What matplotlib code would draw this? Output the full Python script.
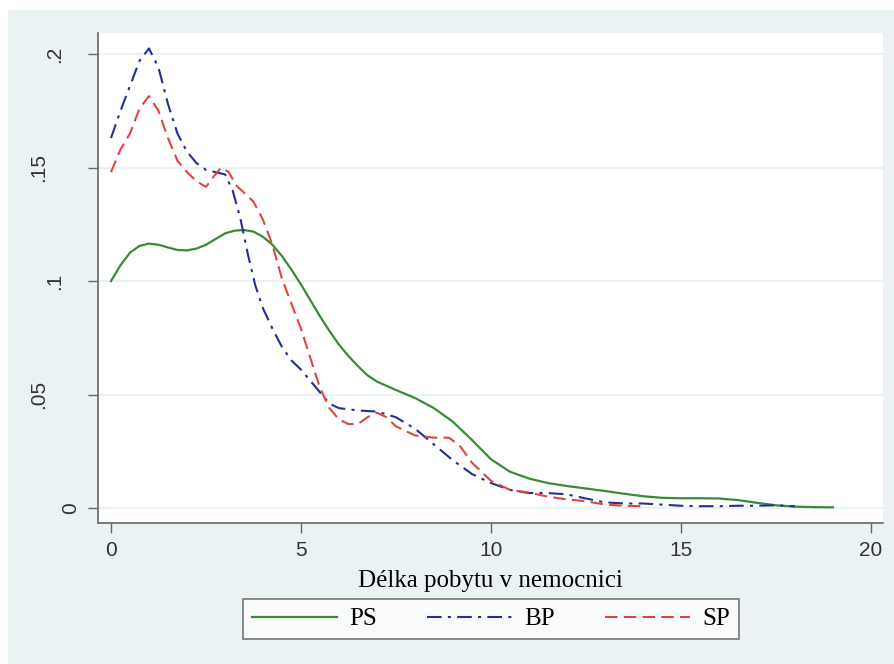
import matplotlib
matplotlib.use('Agg')
import matplotlib.pyplot as plt
from matplotlib.patches import Rectangle
from matplotlib.transforms import ScaledTranslation

# Kernel density estimates
ps_x = [0, 0.25, 0.5, 0.75, 1.0, 1.25, 1.5, 1.75, 2.0, 2.25, 2.5, 2.75, 3.0, 3.25, 3.5,
        3.75, 4.0, 4.25, 4.5, 4.75, 5.0, 5.25, 5.5, 5.75, 6.0, 6.25, 6.5, 6.75, 7.0, 7.5,
        8.0, 8.5, 9.0, 9.5, 10.0, 10.5, 11.0, 11.5, 12.0, 12.5, 13.0, 13.5, 14.0, 14.5,
        15.0, 15.5, 16.0, 16.5, 17.0, 17.5, 18.0, 18.5, 19.0]
ps_y = [0.100, 0.107, 0.1125, 0.1155, 0.1165, 0.1160, 0.1148, 0.1137, 0.1135, 0.1143,
        0.1160, 0.1185, 0.1210, 0.1222, 0.1225, 0.1218, 0.1195, 0.1160, 0.1110, 0.1050,
        0.0985, 0.0915, 0.0845, 0.0780, 0.0720, 0.0670, 0.0625, 0.0585, 0.0557, 0.0520,
        0.0485, 0.0440, 0.0380, 0.0300, 0.0215, 0.0160, 0.0130, 0.0110, 0.0097, 0.0086,
        0.0075, 0.0063, 0.0052, 0.0045, 0.0043, 0.0043, 0.0042, 0.0035, 0.0023, 0.0012,
        0.0006, 0.0004, 0.0003]

bp_x = [0, 0.25, 0.5, 0.75, 1.0, 1.25, 1.5, 1.75, 2.0, 2.25, 2.5, 2.75, 3.0, 3.2, 3.4,
        3.6, 3.8, 4.0, 4.25, 4.5, 4.75, 5.0, 5.25, 5.5, 5.75, 6.0, 6.5, 7.0, 7.5, 8.0,
        8.5, 9.0, 9.5, 10.0, 10.5, 11.0, 11.5, 12.0, 12.5, 13.0, 13.5, 14.0, 14.5, 15.0,
        15.5, 16.0, 16.5, 17.0, 17.5, 18.0]
bp_y = [0.163, 0.175, 0.186, 0.197, 0.2025, 0.194, 0.178, 0.165, 0.157, 0.152, 0.149,
        0.148, 0.147, 0.140, 0.128, 0.112, 0.098, 0.088, 0.079, 0.071, 0.065, 0.061,
        0.056, 0.051, 0.046, 0.044, 0.043, 0.0425, 0.040, 0.035, 0.028, 0.021, 0.015,
        0.011, 0.008, 0.0066, 0.0066, 0.006, 0.0042, 0.0025, 0.002, 0.002, 0.0015,
        0.001, 0.0008, 0.0008, 0.0010, 0.0010, 0.0012, 0.0008]

sp_x = [0, 0.25, 0.5, 0.75, 1.0, 1.25, 1.5, 1.75, 2.0, 2.25, 2.5, 2.7, 2.9, 3.1, 3.3,
        3.5, 3.75, 4.0, 4.25, 4.5, 4.75, 5.0, 5.25, 5.5, 5.75, 6.0, 6.25, 6.5, 6.75, 7.0,
        7.25, 7.5, 8.0, 8.5, 8.9, 9.2, 9.5, 10.0, 10.5, 11.0, 11.5, 12.0, 12.5, 13.0,
        13.5, 14.0]
sp_y = [0.148, 0.158, 0.165, 0.176, 0.1815, 0.175, 0.163, 0.153, 0.148, 0.144, 0.1415,
        0.146, 0.150, 0.148, 0.142, 0.139, 0.135, 0.127, 0.116, 0.101, 0.090, 0.079,
        0.066, 0.053, 0.044, 0.039, 0.037, 0.037, 0.040, 0.042, 0.040, 0.036, 0.032,
        0.031, 0.031, 0.027, 0.020, 0.012, 0.008, 0.0068, 0.005, 0.0038, 0.003, 0.0015,
        0.001, 0.0008]

x_ticks = [0, 5, 10, 15, 20]
y_ticks = [0, 0.05, 0.1, 0.15, 0.2]
y_labels = ['0', '.05', '.1', '.15', '.2']

bg = '#eaf2f3'
sans = ['Liberation Sans', 'DejaVu Sans']
serif = ['Liberation Serif', 'DejaVu Serif']

fig = plt.figure(figsize=(8.94, 6.64), dpi=100, facecolor='white')
fig.patches.append(Rectangle((8 / 894, 0), 1, 1 - 10 / 664, transform=fig.transFigure,
                             facecolor=bg, edgecolor='none', zorder=-10))

ax = fig.add_axes([98 / 894, 1 - 523 / 664, 785 / 894, 490 / 664])
ax.set_facecolor('white')

ax.plot(ps_x, ps_y, color='#3a8a3a', lw=1.6, label='PS')
ax.plot(bp_x, bp_y, color='#23308f', lw=1.5, linestyle=(0, (7, 3, 1.5, 3)), label='BP')
ax.plot(sp_x, sp_y, color='#e0443e', lw=1.5, linestyle=(0, (6, 3)), label='SP')

ax.set_xlim(-0.342, 20.32)
ax.set_ylim(-0.0066, 0.2093)

for v in y_ticks:
    ax.axhline(v, color=bg, lw=1.6, zorder=0)

for s in ['top', 'right']:
    ax.spines[s].set_visible(False)
for s in ['left', 'bottom']:
    ax.spines[s].set_color('#666666')
    ax.spines[s].set_linewidth(1.2)

ax.set_xticks(x_ticks)
ax.set_xticklabels([str(t) for t in x_ticks], fontfamily=sans, fontsize=15, color='#333333')
ax.tick_params(axis='x', length=7, width=1, color='#666666', pad=6)

ax.set_yticks(y_ticks)
ax.set_yticklabels([])
ax.tick_params(axis='y', length=7, width=1, color='#666666')
# Stata-style rotated labels, shifted by their unrotated width
for v, lab in zip(y_ticks, y_labels):
    dx = (11 + 16 * len(lab)) * 0.72 / 72
    tr = ax.get_yaxis_transform() + ScaledTranslation(-dx, 0, fig.dpi_scale_trans)
    ax.text(0, v, lab, transform=tr, rotation=90, ha='center', va='center',
            fontfamily=sans, fontsize=15, color='#333333')

ax.set_xlabel('Délka pobytu v nemocnici', fontfamily=serif, fontsize=18, labelpad=7)

leg = fig.legend(loc='center', bbox_to_anchor=(491 / 894, 1 - 619 / 664), ncol=3,
                 prop={'family': serif, 'size': 18}, handlelength=3.4, handletextpad=0.5,
                 columnspacing=2.0, fancybox=False, frameon=True, borderpad=0.35)
leg.get_frame().set_edgecolor('#555555')
leg.get_frame().set_linewidth(1.2)

plt.savefig('out.png', dpi=100, facecolor=fig.get_facecolor())
